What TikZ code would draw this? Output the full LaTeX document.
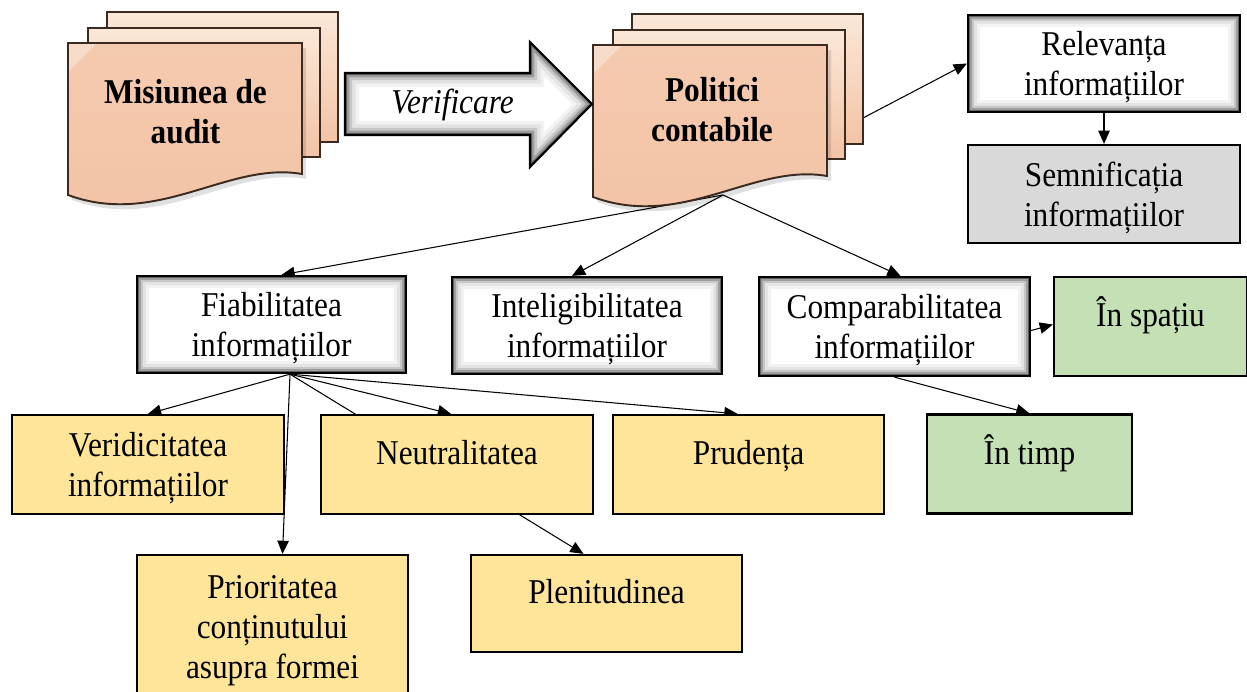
\documentclass[tikz,border=0pt]{standalone}
\usepackage{fontspec}
\setmainfont{Liberation Serif}[FakeStretch=0.9]
\usetikzlibrary{arrows.meta,calc}
\pgfdeclarelayer{bg}
\pgfsetlayers{bg,main}
\definecolor{yel}{HTML}{FFE599}
\definecolor{grn}{HTML}{C5E0B4}
\definecolor{gry}{HTML}{D9D9D9}
\definecolor{peach}{HTML}{F3C3A5}
\definecolor{peachL}{HTML}{FBE8D8}
\definecolor{brn}{HTML}{3A2A20}
\newcommand\fsz{\fontsize{19.8pt}{22.76pt}\selectfont}
\newcommand\up{\rule{0pt}{0.92em}}
\newcommand\docstack[2]{%
  \begin{scope}[shift={(#1,#2)}]
    \draw[docpage] (39,-31) rectangle (270,99);
    \draw[docpage] (20,-15) rectangle (252,114);
    \fill[black,opacity=0.12] (4,5) -- (238,5) -- (238,136) .. controls (164,123) and (94,190) .. (4,157) -- cycle;
    \draw[docfront] (0,0) -- (234,0) -- (234,131) .. controls (160,118) and (90,185) .. (0,152) -- cycle;
    \fill[white,opacity=0.35] (1,1) -- (28,1) -- (1,28) -- cycle;
  \end{scope}}
\tikzset{
  box/.style={draw=black, line width=1.3pt, align=center, font=\fsz, inner sep=0pt},
  glowbox/.style={box, fill=white, path picture={
    \foreach \w/\c in {14pt/5,10.5pt/11,7pt/22,4.5pt/38,2.2pt/62}{
      \draw[line width=\w, black!\c] (path picture bounding box.south west) rectangle (path picture bounding box.north east);}
  }},
  one/.style={text height=1.5ex, text depth=1.5ex},
  conn/.style={line width=0.6pt, -{Triangle[length=7.5pt,width=6.5pt]}},
  docpage/.style={draw=brn, line width=1.1pt, top color=peachL, bottom color=peach},
  docfront/.style={draw=brn, line width=1.1pt, top color=peach!88!white, bottom color=peach},
}
\begin{document}
\begin{tikzpicture}[x=0.02cm, y=-0.02cm]
\useasboundingbox (0,0) rectangle (1247,691);

% document stacks
\docstack{68}{43}
\docstack{593}{45}
\node[font=\fsz\bfseries, align=center] (mis) at (185.5,112) {Misiunea de\\audit};
\node[font=\fsz\bfseries, align=center] (pol) at (712,110) {Politici\\contabile};

% Verificare arrow
\path[save path=\arrowpath] (345,73) -- (530,73) -- (530,42) -- (592,104) -- (530,167) -- (530,135) -- (345,135) -- cycle;
\fill[white, use path=\arrowpath];
\begin{scope}
  \clip[use path=\arrowpath];
  \foreach \w/\c in {16pt/5,12pt/11,8pt/22,5pt/38,2.4pt/60}{
    \draw[line width=\w, black!\c, use path=\arrowpath];}
\end{scope}
\draw[line width=1.2pt, line join=miter, use path=\arrowpath];
\node[font=\fsz\itshape, anchor=base] (verif) at (452.5,113.3) {Verificare};

% boxes
\node[glowbox, minimum width=5.44cm, minimum height=1.94cm] (rel) at (1104,63.5) {\up Relevanța\\informațiilor};
\node[box, fill=gry, minimum width=5.44cm, minimum height=1.96cm] (sem) at (1104,194) {\up Semnificația\\informațiilor};
\node[glowbox, minimum width=5.38cm, minimum height=1.94cm] (fiab) at (271.5,324.5) {\up Fiabilitatea\\informațiilor};
\node[glowbox, minimum width=5.40cm, minimum height=1.94cm] (intel) at (587,325.5) {\up Inteligibilitatea\\informațiilor};
\node[glowbox, minimum width=5.42cm, minimum height=1.98cm] (comp) at (894.5,326.5) {\up Comparabilitatea\\informațiilor};
\node[box, fill=grn, one, minimum width=3.86cm, minimum height=1.98cm] (spatiu) at (1150.5,326.5) {În spațiu};
\node[box, fill=yel, minimum width=5.44cm, minimum height=1.98cm] (verid) at (148,464.5) {\up Veridicitatea\\informațiilor};
\node[box, fill=yel, one, minimum width=5.44cm, minimum height=1.98cm] (neut) at (457,464.5) {Neutralitatea};
\node[box, fill=yel, one, minimum width=5.42cm, minimum height=1.98cm] (prud) at (748.5,464.5) {Prudența};
\node[box, fill=grn, one, minimum width=4.10cm, minimum height=1.98cm] (timp) at (1029.5,464) {În timp};
\node[box, fill=yel, minimum width=5.42cm, minimum height=2.86cm] (prior) at (272.5,626.5) {\up Prioritatea\\conținutului\\asupra formei};
\node[box, fill=yel, one, minimum width=5.42cm, minimum height=1.94cm] (plen) at (606.5,603.5) {Plenitudinea};

% connector anchors
\coordinate (polB) at (723,195);
\coordinate (polR) at (863,118);
\coordinate (fb) at ($(fiab.south)+(18.5,0)$);

\begin{pgfonlayer}{bg}
\draw[conn] (polR) -- (rel.west);
\draw[conn] (rel.south) -- (sem.north);
\draw[conn] (polB) -- ($(fiab.north)+(10,0)$);
\draw[conn] (polB) -- ($(intel.north)+(-15,0)$);
\draw[conn] (polB) -- ($(comp.north)+(6,0)$);
\draw[conn] (fb) -- (verid.north);
\draw[conn] (fb) -- ($(prior.north)+(10,0)$);
\draw[conn] (fb) -- ($(neut.north)+(-6,0)$);
\draw[conn] (fb) -- ($(prud.north)+(-11,0)$);
\draw[conn] (fb) -- ($(plen.north)+(-23,0)$);
\draw[conn] ($(comp.east)+(0,4)$) -- ($(spatiu.west)+(0,-2)$);
\draw[conn] (comp.south) -- (timp.north);
\end{pgfonlayer}
\end{tikzpicture}
\end{document}
